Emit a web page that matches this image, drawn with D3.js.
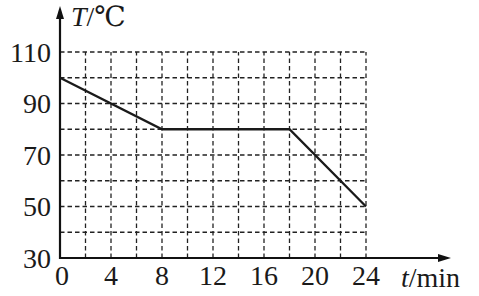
<!DOCTYPE html>
<meta charset="utf-8">

<style>
body { margin: 0; background: #fff; }
svg.chart { display: block; background: #fff; }
svg.chart .grid line { stroke: #222; stroke-width: 1.3; stroke-dasharray: 4.5 3; }
svg.chart .axis-line { stroke: #111; stroke-width: 2.2; }
svg.chart .curve { fill: none; stroke: #1a1a1a; stroke-width: 2.3; }
</style>

<svg class="chart" width="479" height="296"></svg>

<script src="https://d3js.org/d3.v7.min.js"></script>

<script>

// data
var timeMin = [0, 8, 18, 24];
var tempC = [100, 80, 80, 50];
var xTickLabels = [0, 4, 8, 12, 16, 20, 24];
var yTickLabels = [30, 50, 70, 90, 110];
var xGrid = d3.range(2, 25, 2);
var yGrid = d3.range(40, 111, 10);

var serif = "'Liberation Serif', 'Times New Roman', 'DejaVu Serif', serif";

var svg = d3.select("svg.chart");

var x = d3.scaleLinear().domain([0, 24]).range([60, 366]);
var y = d3.scaleLinear().domain([30, 110]).range([258, 52]);

// dashed grid
var grid = svg.append("g").attr("class", "grid");
grid.selectAll("line.v")
  .data(xGrid)
  .enter().append("line")
    .attr("x1", function(d) { return x(d); })
    .attr("x2", function(d) { return x(d); })
    .attr("y1", y(30))
    .attr("y2", y(110));
grid.selectAll("line.h")
  .data(yGrid)
  .enter().append("line")
    .attr("x1", x(0))
    .attr("x2", x(24))
    .attr("y1", function(d) { return y(d); })
    .attr("y2", function(d) { return y(d); });

// axes with arrows
svg.append("line").attr("class", "axis-line")
  .attr("x1", x(0)).attr("x2", x(0))
  .attr("y1", y(30) + 1).attr("y2", 14);
svg.append("path")
  .attr("d", `M${x(0)},6 L${x(0) - 4},19 L${x(0) + 4},19 Z`)
  .attr("fill", "#111");

svg.append("line").attr("class", "axis-line")
  .attr("x1", x(0) - 1).attr("x2", 442)
  .attr("y1", y(30)).attr("y2", y(30));
svg.append("path")
  .attr("d", `M451,${y(30)} L438,${y(30) - 4} L438,${y(30) + 4} Z`)
  .attr("fill", "#111");

// curve
var line = d3.line()
  .x(function(d, i) { return x(timeMin[i]); })
  .y(function(d) { return y(d); });

svg.append("path")
  .datum(tempC)
  .attr("class", "curve")
  .attr("d", line);

// tick labels
svg.selectAll("text.xt")
  .data(xTickLabels)
  .enter().append("text")
    .style("font-family", serif)
    .style("font-size", "28px")
    .style("fill", "#1a1a1a")
    .attr("x", function(d) { return x(d) + (d === 0 ? 2 : 0); })
    .attr("y", 285)
    .attr("text-anchor", "middle")
    .text(function(d) { return d; });

svg.selectAll("text.yt")
  .data(yTickLabels)
  .enter().append("text")
    .style("font-family", serif)
    .style("font-size", "28px")
    .style("fill", "#1a1a1a")
    .attr("x", 51)
    .attr("y", function(d) { return y(d) + 9.5; })
    .attr("text-anchor", "end")
    .text(function(d) { return d; });

// axis titles
var yTitle = svg.append("text")
  .style("font-family", serif).style("font-size", "28px").style("fill", "#1a1a1a")
  .attr("x", 71).attr("y", 26);
yTitle.append("tspan").style("font-style", "italic").text("T");
yTitle.append("tspan").text("/℃");

var xTitle = svg.append("text")
  .style("font-family", serif).style("font-size", "28px").style("fill", "#1a1a1a")
  .attr("x", 401).attr("y", 287);
xTitle.append("tspan").style("font-style", "italic").text("t");
xTitle.append("tspan").text("/min");

</script>
